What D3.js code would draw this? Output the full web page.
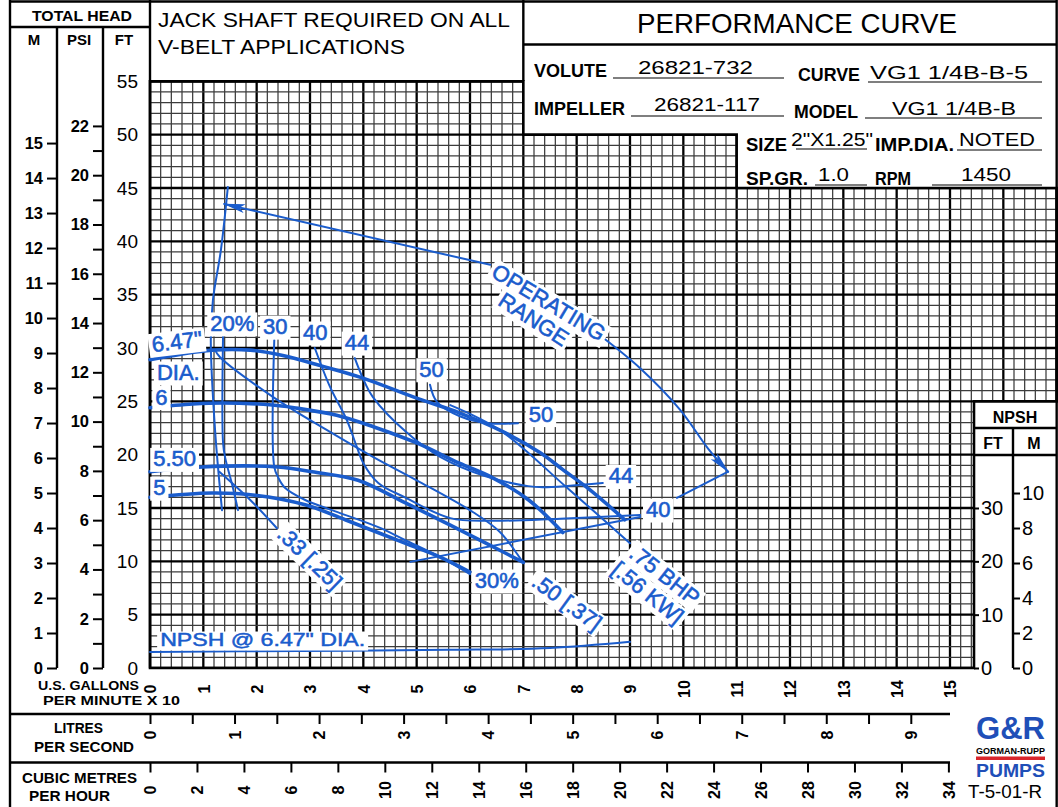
<!DOCTYPE html>
<html>
<head>
<meta charset="utf-8">
<script src="https://cdn.jsdelivr.net/npm/d3@7"></script>
<style>
  body { margin: 0; background: #fff; }
  svg { display: block; }
  text { font-family: "Liberation Sans", Arial, sans-serif; }
</style>
</head>
<body>
<div id="chart"></div>
<script>
// ---- data (flow in U.S. gpm x 10, head in ft) ----
const flowTicks = d3.range(0, 16);
const headFtTicks = d3.range(0, 56, 5);
const headMTicks = d3.range(0, 16);
const headPsiTicks = d3.range(0, 23);
const npshFtTicks = [0, 10, 20, 30];
const npshMTicks = [0, 2, 4, 6, 8, 10];
const lpsTicks = d3.range(0, 9.01, 0.5);
const m3hTicks = d3.range(0, 35, 2);

// impeller head curves
const dia647 = [[0, 28.9], [0.56, 29.4], [1.16, 29.8], [1.88, 29.8], [2.49, 29.3], [3.23, 28.3], [3.98, 27.2],
  [5.0, 25.3], [5.81, 23.9], [6.56, 22.3], [7.31, 20.2], [7.74, 18.6], [8.25, 16.7], [8.9, 13.9]];
const dia6 = [[0, 24.4], [0.8, 24.75], [1.37, 24.85], [2.3, 24.65], [2.7, 24.4], [3.5, 23.7], [4.2, 22.6],
  [5.0, 21.1], [5.8, 19.2], [6.4, 17.9], [7.1, 15.75], [7.74, 12.7]];
const dia550 = [[0, 18.4], [0.98, 18.85], [2.4, 18.85], [3.04, 18.4], [3.9, 17.6], [4.78, 15.5], [5.63, 13.4],
  [6.38, 11.5], [7.0, 9.9]];
const dia5 = [[0, 16.0], [1.16, 16.4], [1.97, 16.2], [2.91, 15.3], [3.66, 13.9], [4.78, 11.7], [5.44, 10.4], [6.0, 9.0]];

// NPSH required @ 6.47" (ft of NPSH)
const npsh647 = [[0, 3.0], [2.8, 3.2], [5.6, 3.4], [7.5, 3.75], [9.0, 4.9]];

// efficiency lines
const eff20 = [[1.37, 31.2], [1.37, 21.1], [1.41, 19.7], [1.54, 17.2], [1.65, 14.8]];
const eff30 = [[2.33, 30.75], [2.33, 18.85], [2.4, 17.9], [2.53, 16.9], [2.91, 15.75], [3.41, 14.8],
  [4.28, 13.2], [4.78, 12.0], [5.44, 10.4], [6.0, 8.8]];
const eff40 = [[3.09, 30.0], [3.38, 26.3], [3.69, 23.25], [3.88, 20.7], [4.0, 19.2], [4.28, 17.35],
  [4.78, 16.0], [5.63, 14.05], [6.38, 13.8], [7.69, 14.0], [9.19, 14.35]];
const eff44 = [[3.84, 29.05], [3.98, 27.3], [4.18, 25.4], [4.82, 22.05], [5.44, 19.8], [6.28, 18.0],
  [7.09, 17.05], [7.37, 16.95], [8.49, 17.35]];
const eff50 = [[5.25, 26.55], [5.38, 24.95], [5.81, 23.6], [6.34, 22.95], [6.9, 22.95]];

// brake horsepower lines
const bhp33 = [[1.3, 18.4], [1.88, 15.75], [2.38, 13.1]];
const bhp50 = [[1.22, 29.8], [1.31, 29.15], [2.31, 25.4], [3.32, 22.3], [4.18, 19.8], [5.0, 17.6],
  [6.06, 14.6], [6.56, 12.75], [7.0, 9.85]];
const bhp75 = [[5.63, 24.65], [6.56, 22.3], [7.82, 16.9], [9.0, 11.7]];

// operating range
const opLeft = [[1.46, 45.1], [1.33, 39.2], [1.18, 34.5], [1.14, 30.75], [1.22, 22.3], [1.35, 14.8]];
const opTop = [[6.38, 37.8], [1.39, 43.5]];
const opRight = [[8.38, 31.4], [9.19, 28.1], [9.94, 24.2], [10.46, 20.6], [10.84, 18.4]];
const opLow1 = [[10.84, 18.4], [9.88, 15.95]];
const opLow2 = [[9.19, 14.15], [4.88, 9.95]];

// blue labels: text, flow, head, rotation
const curveLabels = [
  ["6.47\"", 0.05, 29.6, -7], ["DIA.", 0.13, 27.0, 0], ["6", 0.1, 24.7, 0],
  ["5.50", 0.06, 18.9, 0], ["5", 0.06, 16.2, 0],
  ["20%", 1.13, 31.6, 0], ["30", 2.12, 31.3, 0], ["40", 2.87, 30.75, 0], ["44", 3.65, 29.8, 0],
  ["50", 5.05, 27.3, 0], ["50", 7.1, 23.1, 0], ["44", 8.6, 17.3, 0], ["40", 9.3, 14.15, 0],
  ["30%", 6.09, 7.5, 0],
  [".33 [.25]", 2.36, 12.4, 44], [".50 [.37]", 7.13, 7.8, 36],
  [".75 BHP", 8.96, 10.5, 38], ["[.56 KW]", 8.63, 9.0, 39],
  ["OPERATING", 6.375, 36.75, 31], ["RANGE", 6.5, 34.1, 33]
];
const npshLabel = ["NPSH @ 6.47\" DIA.", 0.19, 2.06];

// ---- drawing ----
const BLUE = "#1a5ccc";
const width = 1058, height = 807;

const svg = d3.select("#chart").append("svg")
  .attr("width", width).attr("height", height);

const x = d3.scaleLinear().domain([0, 15]).range([150, 950]);
const y = d3.scaleLinear().domain([0, 55]).range([668, 81.33]);
const yM = d3.scaleLinear().domain([0, 55 / 3.28084]).range(y.range());
const yPsi = d3.scaleLinear().domain([0, 55 / 2.31]).range(y.range());
const yN = d3.scaleLinear().domain([0, 110]).range(y.range());
const yNM = d3.scaleLinear().domain([0, 110 / 3.28084]).range(y.range());
const xL = d3.scaleLinear().domain([0, 150 / 15.85]).range(x.range());
const xC = d3.scaleLinear().domain([0, 150 / 4.4029]).range(x.range());

// grid area outline (cut around the title blocks and NPSH panel)
const outline = [[0, 0], [0, 55], [7, 55], [7, 50], [11, 50], [11, 45], [17, 45], [17, 25], [15.45, 25], [15.45, 0]];
const outlinePath = d3.line().x(d => x(d[0])).y(d => y(d[1]))(outline) + "Z";

const defs = svg.append("defs");
defs.append("clipPath").attr("id", "gclip").append("path").attr("d", outlinePath);
defs.append("marker")
  .attr("id", "arrow").attr("viewBox", "0 -5 22 10").attr("refX", 21).attr("refY", 0)
  .attr("markerUnits", "userSpaceOnUse").attr("markerWidth", 22).attr("markerHeight", 10)
  .attr("orient", "auto")
  .append("path").attr("d", "M0,-4.5L22,0L0,4.5L5,0Z").attr("fill", BLUE);

const grid = svg.append("g").attr("clip-path", "url(#gclip)");
grid.selectAll(".gv").data(d3.range(0, 86)).join("line")
  .attr("x1", i => x(i * 0.2)).attr("x2", i => x(i * 0.2))
  .attr("y1", y(0)).attr("y2", y(55))
  .attr("stroke", i => i % 5 === 0 ? "#000" : "#3c3c3c")
  .attr("stroke-width", i => i % 5 === 0 ? 2.3 : 1.25);
grid.selectAll(".gh").data(d3.range(0, 56)).join("line")
  .attr("x1", x(0)).attr("x2", x(17))
  .attr("y1", d => y(d)).attr("y2", d => y(d))
  .attr("stroke", d => d % 5 === 0 ? "#000" : "#3c3c3c")
  .attr("stroke-width", d => d % 5 === 0 ? 2.3 : 1.25);

// frame
svg.append("path").attr("d", outlinePath).attr("fill", "none")
  .attr("stroke", "#000").attr("stroke-width", 2.6);
const frame = [
  [10, 0, 10, 807], [10, 1.5, x(17), 1.5], [x(17), 0, x(17), 807],
  [10, 27, 150, 27], [57, 27, 57, 668], [103, 27, 103, 668], [150, 0, 150, 668],
  [x(7), 0, x(7), 81], [x(7), 44.5, x(17), 44.5],
  [x(15.45), 428, x(17), 428], [x(15.45), 455, x(17), 455], [1013, 428, 1013, 668],
  [10, 714, 950, 714], [10, 762.5, 950, 762.5]
];
svg.append("g").selectAll("line").data(frame).join("line")
  .attr("x1", d => d[0]).attr("y1", d => d[1]).attr("x2", d => d[2]).attr("y2", d => d[3])
  .attr("stroke", "#000").attr("stroke-width", 2.4);

// axes
function styleAxis(g, size, weight) {
  g.select(".domain").remove();
  g.selectAll("line").attr("stroke", "#000").attr("stroke-width", 2);
  g.selectAll("text").attr("font-size", size).attr("font-weight", weight)
    .attr("font-family", "Liberation Sans, Arial, sans-serif").attr("fill", "#000");
}
svg.append("g").attr("transform", "translate(57,0)")
  .call(d3.axisLeft(yM).tickValues(headMTicks).tickSize(10).tickPadding(4))
  .call(g => styleAxis(g, 16.5, "bold"));
svg.append("g").attr("transform", "translate(103,0)")
  .call(d3.axisLeft(yPsi).tickValues(headPsiTicks).tickSize(10).tickPadding(4)
    .tickFormat(d => d % 2 ? "" : d))
  .call(g => styleAxis(g, 16.5, "bold"));
svg.append("g").attr("transform", "translate(150,0)")
  .call(d3.axisLeft(y).tickValues(headFtTicks).tickSize(0).tickPadding(12))
  .call(g => styleAxis(g, 19, "normal"));

function rotateLabels(g, down) {
  g.selectAll("text").attr("transform", "rotate(-90)")
    .attr("x", -down).attr("y", 0).attr("dy", "0.36em").attr("text-anchor", "middle");
}
svg.append("g").attr("transform", "translate(0,668)")
  .call(d3.axisBottom(x).tickValues(flowTicks).tickSize(0))
  .call(g => styleAxis(g, 16, "bold"))
  .call(g => rotateLabels(g, 21));
svg.append("g").attr("transform", "translate(0,714)")
  .call(d3.axisBottom(xL).tickValues(lpsTicks).tickSize(10)
    .tickFormat(d => Number.isInteger(d) ? d : ""))
  .call(g => styleAxis(g, 16, "bold"))
  .call(g => rotateLabels(g, 21));
svg.append("g").attr("transform", "translate(0,762.5)")
  .call(d3.axisBottom(xC).tickValues(m3hTicks).tickSize(10))
  .call(g => styleAxis(g, 16, "bold"))
  .call(g => rotateLabels(g, 27.5));

svg.append("g").attr("transform", `translate(${x(15.45)},0)`)
  .call(d3.axisRight(yN).tickValues(npshFtTicks).tickSize(5).tickPadding(2))
  .call(g => styleAxis(g, 20, "normal"));
svg.append("g").attr("transform", "translate(1013,0)")
  .call(d3.axisRight(yNM).tickValues(npshMTicks).tickSize(7).tickPadding(2))
  .call(g => styleAxis(g, 20, "normal"));

// plain text helper
function txt(t, px, py, o = {}) {
  const e = svg.append("text").attr("x", px).attr("y", py).text(t)
    .attr("font-size", o.size || 16).attr("font-weight", o.weight || "normal")
    .attr("fill", o.fill || "#000").attr("text-anchor", o.anchor || "start");
  if (o.len) e.attr("textLength", o.len).attr("lengthAdjust", "spacingAndGlyphs");
  return e;
}

// header blocks
txt("TOTAL HEAD", 32, 21, { size: 15, weight: "bold", len: 100 });
txt("M", 34, 45, { size: 15, weight: "bold", anchor: "middle" });
txt("PSI", 79, 45, { size: 15, weight: "bold", anchor: "middle" });
txt("FT", 124, 45, { size: 15, weight: "bold", anchor: "middle" });
txt("JACK SHAFT REQUIRED ON ALL", 158, 27, { size: 20, len: 352 });
txt("V-BELT APPLICATIONS", 158, 54, { size: 20, len: 247 });
txt("PERFORMANCE CURVE", 637, 33, { size: 28, len: 320 });

const infoText = [
  ["VOLUTE", 534, 77, 73, "bold"], ["26821-732", 638, 74, 115, "normal"],
  ["CURVE", 798, 81, 62, "bold"], ["VG1 1/4B-B-5", 870, 79, 158, "normal"],
  ["IMPELLER", 534, 115, 91, "bold"], ["26821-117", 654, 111, 106, "normal"],
  ["MODEL", 794, 118, 64, "bold"], ["VG1 1/4B-B", 892, 115, 124, "normal"],
  ["SIZE", 746, 151, 41, "bold"], ["2\"X1.25\"", 791, 146, 82, "normal"],
  ["IMP.DIA.", 875, 151, 79, "bold"], ["NOTED", 959, 146, 76, "normal"],
  ["SP.GR.", 746, 185, 62, "bold"], ["1.0", 818, 181, 31, "normal"],
  ["RPM", 875, 185, 36, "bold"], ["1450", 961, 181, 50, "normal"]
];
infoText.forEach(d => txt(d[0], d[1], d[2], { size: 19, weight: d[4], len: d[3] }));
const underlines = [[613, 784, 78], [868, 1042, 82], [631, 784, 116], [865, 1042, 118],
  [796, 867, 149], [957, 1042, 150], [815, 867, 185], [932, 1042, 185]];
svg.append("g").selectAll("line").data(underlines).join("line")
  .attr("x1", d => d[0]).attr("x2", d => d[1]).attr("y1", d => d[2]).attr("y2", d => d[2])
  .attr("stroke", "#000").attr("stroke-width", 1.2);

// NPSH panel header
txt("NPSH", 1015, 423, { size: 16, weight: "bold", anchor: "middle" });
txt("FT", 993, 449, { size: 16, weight: "bold", anchor: "middle" });
txt("M", 1034, 449, { size: 16, weight: "bold", anchor: "middle" });

// bottom captions
txt("U.S. GALLONS", 38, 690, { size: 13.5, weight: "bold", len: 101 });
txt("PER MINUTE X 10", 43, 705, { size: 13.5, weight: "bold", len: 137 });
txt("LITRES", 54, 733, { size: 15, weight: "bold", len: 49 });
txt("PER SECOND", 34, 752, { size: 15, weight: "bold", len: 100 });
txt("CUBIC METRES", 22, 783, { size: 15, weight: "bold", len: 115 });
txt("PER HOUR", 29, 801, { size: 15, weight: "bold", len: 81 });

// logo
txt("G&R", 976, 739, { size: 31, weight: "bold", fill: "#1f4fb8", len: 69 });
txt("GORMAN-RUPP", 976, 754, { size: 8.5, weight: "bold", len: 69 });
svg.append("rect").attr("x", 976).attr("y", 756.5).attr("width", 69).attr("height", 3.5).attr("fill", "#d9262b");
txt("PUMPS", 976, 777, { size: 19, weight: "bold", fill: "#1f4fb8", len: 69 });
txt("T-5-01-R", 968, 798, { size: 18, len: 74 });

// curves
const line = d3.line().x(d => x(d[0])).y(d => y(d[1])).curve(d3.curveCatmullRom.alpha(0.5));
const npshLine = d3.line().x(d => x(d[0])).y(d => yN(d[1])).curve(d3.curveCatmullRom.alpha(0.5));
const curves = svg.append("g").attr("fill", "none").attr("stroke", BLUE)
  .attr("stroke-linecap", "round").attr("stroke-linejoin", "round");

[dia647, dia6, dia550, dia5].forEach(c =>
  curves.append("path").attr("d", line(c)).attr("stroke-width", 3.6));
[eff20, eff30, eff40, eff44, eff50, bhp33, bhp50, bhp75, opLeft, opLow1, opLow2].forEach(c =>
  curves.append("path").attr("d", line(c)).attr("stroke-width", 2));
[opTop, opRight].forEach(c =>
  curves.append("path").attr("d", line(c)).attr("stroke-width", 2).attr("marker-end", "url(#arrow)"));
curves.append("path").attr("d", npshLine(npsh647)).attr("stroke-width", 2);

// blue labels on white boxes
function boxed(sel) {
  sel.each(function () {
    const g = d3.select(this);
    const b = g.select("text").node().getBBox();
    g.insert("rect", "text")
      .attr("x", b.x - 3).attr("y", b.y + 1.5)
      .attr("width", b.width + 6).attr("height", b.height - 1)
      .attr("fill", "#fff");
  });
}
const lab = svg.append("g");
lab.selectAll("g").data(curveLabels).join("g")
  .attr("transform", d => `translate(${x(d[1])},${y(d[2])}) rotate(${d[3]})`)
  .call(g => g.append("text").attr("font-size", 22).attr("fill", BLUE)
    .attr("stroke", BLUE).attr("stroke-width", 0.6).text(d => d[0]))
  .call(boxed);
lab.append("g")
  .attr("transform", `translate(${x(npshLabel[1])},${y(npshLabel[2])})`)
  .call(g => g.append("text").attr("font-size", 18).attr("fill", BLUE)
    .attr("stroke", BLUE).attr("stroke-width", 0.5)
    .attr("textLength", 205).attr("lengthAdjust", "spacingAndGlyphs")
    .text(npshLabel[0]))
  .call(boxed);
</script>
</body>
</html>
